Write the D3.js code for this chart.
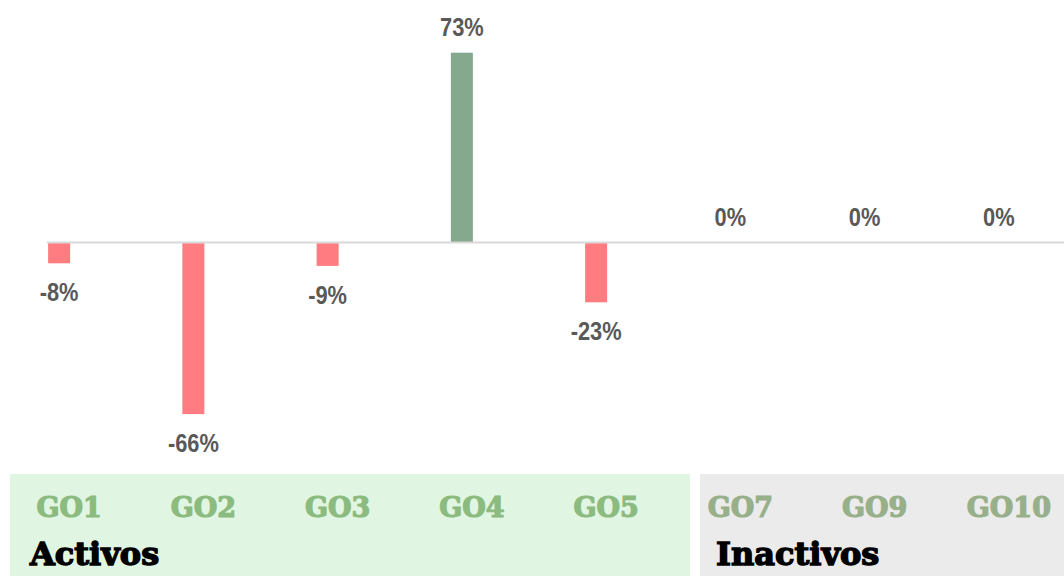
<!DOCTYPE html>
<html lang="es">
<head>
<meta charset="UTF-8">
<title>Variación por GO</title>
<style>
  body { margin: 0; background: #fff; }
  svg { display: block; }
  .val { font-family: "Liberation Sans", Arial, sans-serif; font-weight: bold; font-size: 26px; fill: #595959; }
  .cat { font-family: "DejaVu Serif", serif; font-weight: bold; font-size: 27px; stroke-width: 1.2px; }
  .grp { font-family: "DejaVu Serif", serif; font-weight: bold; font-size: 32px; fill: #000; stroke: #000; stroke-width: 1.4px; }
</style>
</head>
<body>
<script src="https://cdn.jsdelivr.net/npm/d3@7"></script>
<script>
var categories = ['GO1', 'GO2', 'GO3', 'GO4', 'GO5', 'GO7', 'GO9', 'GO10'];
var values = [-8, -66, -9, 73, -23, 0, 0, 0];
var active = ['GO1', 'GO2', 'GO3', 'GO4', 'GO5'];
var groupNames = ['Activos', 'Inactivos'];

var width = 1064, height = 576;

var svg = d3.select('body').append('svg')
  .attr('width', width)
  .attr('height', height);

var xScale = d3.scaleBand().domain(categories).range([-8, 1066]).padding(0);
var yScale = d3.scaleLinear().domain([-100, 100]).range([502.5, -17.5]);

var barWidth = 22;

// group boxes behind the category labels
var boxes = [
  {name: groupNames[0], x0: 10, x1: 690, fill: '#e0f5e2', tx: 30},
  {name: groupNames[1], x0: 700, x1: 1064, fill: '#ebebeb', tx: 716}
];

svg.selectAll('.box')
  .data(boxes)
  .enter().append('rect')
  .attr('class', 'box')
  .attr('x', d => d.x0)
  .attr('y', 474)
  .attr('width', d => d.x1 - d.x0)
  .attr('height', height - 474)
  .style('fill', d => d.fill);

svg.selectAll('.grp')
  .data(boxes)
  .enter().append('text')
  .attr('class', 'grp')
  .attr('x', d => d.tx)
  .attr('y', 565)
  .text(d => d.name);

var data = categories.map((c, i) => ({cat: c, val: values[i]}));

// bars
svg.selectAll('.bar')
  .data(data)
  .enter().append('rect')
  .attr('class', 'bar')
  .attr('x', d => xScale(d.cat) + xScale.bandwidth() / 2 - barWidth / 2)
  .attr('y', d => yScale(Math.max(0, d.val)))
  .attr('width', barWidth)
  .attr('height', d => Math.abs(yScale(d.val) - yScale(0)))
  .style('fill', d => d.val < 0 ? '#ff7c80' : '#84a98c');

// zero line
svg.append('line')
  .attr('x1', 47)
  .attr('x2', width)
  .attr('y1', yScale(0))
  .attr('y2', yScale(0))
  .style('stroke', '#d9d9d9')
  .style('stroke-width', 2);

// value labels (squeezed to look like a narrow face)
svg.selectAll('.val')
  .data(data)
  .enter().append('text')
  .attr('class', 'val')
  .attr('text-anchor', 'middle')
  .attr('transform', function (d) {
    var tx = xScale(d.cat) + xScale.bandwidth() / 2;
    var ty = d.val < 0 ? yScale(d.val) + 38 : yScale(d.val) - 17;
    return `translate(${tx}, ${ty}) scale(0.84, 1)`;
  })
  .text(d => d.val + '%');

// category axis
var axis = svg.append('g')
  .attr('transform', 'translate(0, 490)')
  .call(d3.axisBottom(xScale).tickSize(0));

axis.select('.domain').remove();
axis.selectAll('text')
  .attr('class', 'cat')
  .attr('dy', null)
  .attr('y', 27)
  .attr('x', 10)
  .attr('font-family', null)
  .attr('font-size', null)
  .style('fill', d => active.indexOf(d) >= 0 ? '#8cbb7f' : '#97b08a')
  .style('stroke', d => active.indexOf(d) >= 0 ? '#8cbb7f' : '#97b08a');
</script>
</body>
</html>
